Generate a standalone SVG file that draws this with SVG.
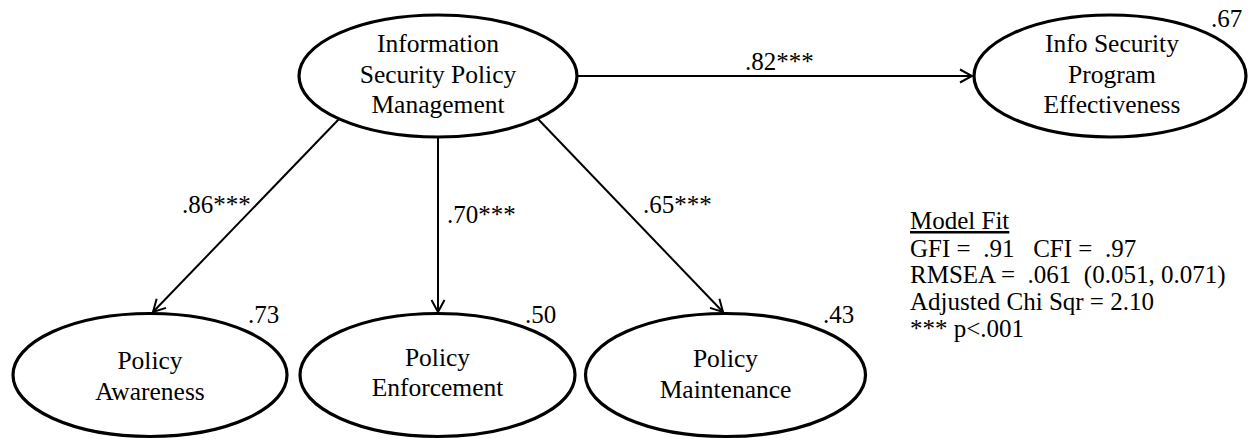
<svg xmlns="http://www.w3.org/2000/svg" width="1248" height="439" viewBox="0 0 1248 439" font-family="'Liberation Serif', 'Times New Roman', 'DejaVu Serif', serif">
<style>
  .node ellipse { fill: #ffffff; stroke: #000000; stroke-width: 3.2; }
  text { font-family: 'Liberation Serif', 'Times New Roman', 'DejaVu Serif', serif; fill: #000000; }
  .lbl { font-size: 25.5px; text-anchor: middle; }
  .num { font-size: 25px; }
  .fit text { font-size: 25px; white-space: pre; }
  .conn line { stroke: #000000; stroke-width: 2; marker-end: url(#arr); }
</style>
<defs>
  <marker id="arr" markerUnits="userSpaceOnUse" markerWidth="16" markerHeight="16" viewBox="-14 -8 16 16" refX="0" refY="0" orient="auto">
    <path d="M -12 -6.5 L 0 0 L -12 6.5" fill="none" stroke="#000000" stroke-width="2"/>
  </marker>
</defs>
<rect width="1248" height="439" fill="#ffffff"/>

<g id="connectors" class="conn">
  <line x1="577" y1="76" x2="972" y2="76"/>
  <line x1="339" y1="119" x2="153" y2="312"/>
  <line x1="438" y1="138" x2="438" y2="312"/>
  <line x1="538" y1="119" x2="723" y2="312"/>
</g>

<g id="node-ispm" class="node">
  <ellipse cx="438" cy="76" rx="139" ry="61"/>
  <text class="lbl" x="438" y="52">Information</text>
  <text class="lbl" x="438" y="83">Security Policy</text>
  <text class="lbl" x="438" y="113">Management</text>
</g>

<g id="node-ispe" class="node">
  <ellipse cx="1110" cy="76" rx="136" ry="61"/>
  <text class="lbl" x="1112" y="52">Info Security</text>
  <text class="lbl" x="1112" y="83">Program</text>
  <text class="lbl" x="1112" y="113">Effectiveness</text>
  <text class="num" x="1211" y="27">.67</text>
</g>

<g id="node-awareness" class="node">
  <ellipse cx="150" cy="375" rx="137" ry="61.5"/>
  <text class="lbl" x="150" y="369">Policy</text>
  <text class="lbl" x="150" y="400">Awareness</text>
  <text class="num" x="248" y="323">.73</text>
</g>

<g id="node-enforcement" class="node">
  <ellipse cx="437.5" cy="375" rx="137.5" ry="61.5"/>
  <text class="lbl" x="437.5" y="366">Policy</text>
  <text class="lbl" x="437.5" y="396">Enforcement</text>
  <text class="num" x="525" y="323">.50</text>
</g>

<g id="node-maintenance" class="node">
  <ellipse cx="725.5" cy="375" rx="140" ry="61.5"/>
  <text class="lbl" x="725.5" y="367">Policy</text>
  <text class="lbl" x="725.5" y="398">Maintenance</text>
  <text class="num" x="823" y="323">.43</text>
</g>

<g id="edge-labels">
  <text class="num" x="745" y="70">.82***</text>
  <text class="num" x="182" y="213">.86***</text>
  <text class="num" x="447" y="223">.70***</text>
  <text class="num" x="643" y="213">.65***</text>
</g>

<g id="model-fit" class="fit">
  <text x="910" y="229" text-decoration="underline">Model Fit</text>
  <text x="910" y="257" xml:space="preserve">GFI =  .91   CFI =  .97</text>
  <text x="910" y="283" xml:space="preserve">RMSEA =  .061  (0.051, 0.071)</text>
  <text x="910" y="310">Adjusted Chi Sqr = 2.10</text>
  <text x="910" y="337">*** p&lt;.001</text>
</g>
</svg>
